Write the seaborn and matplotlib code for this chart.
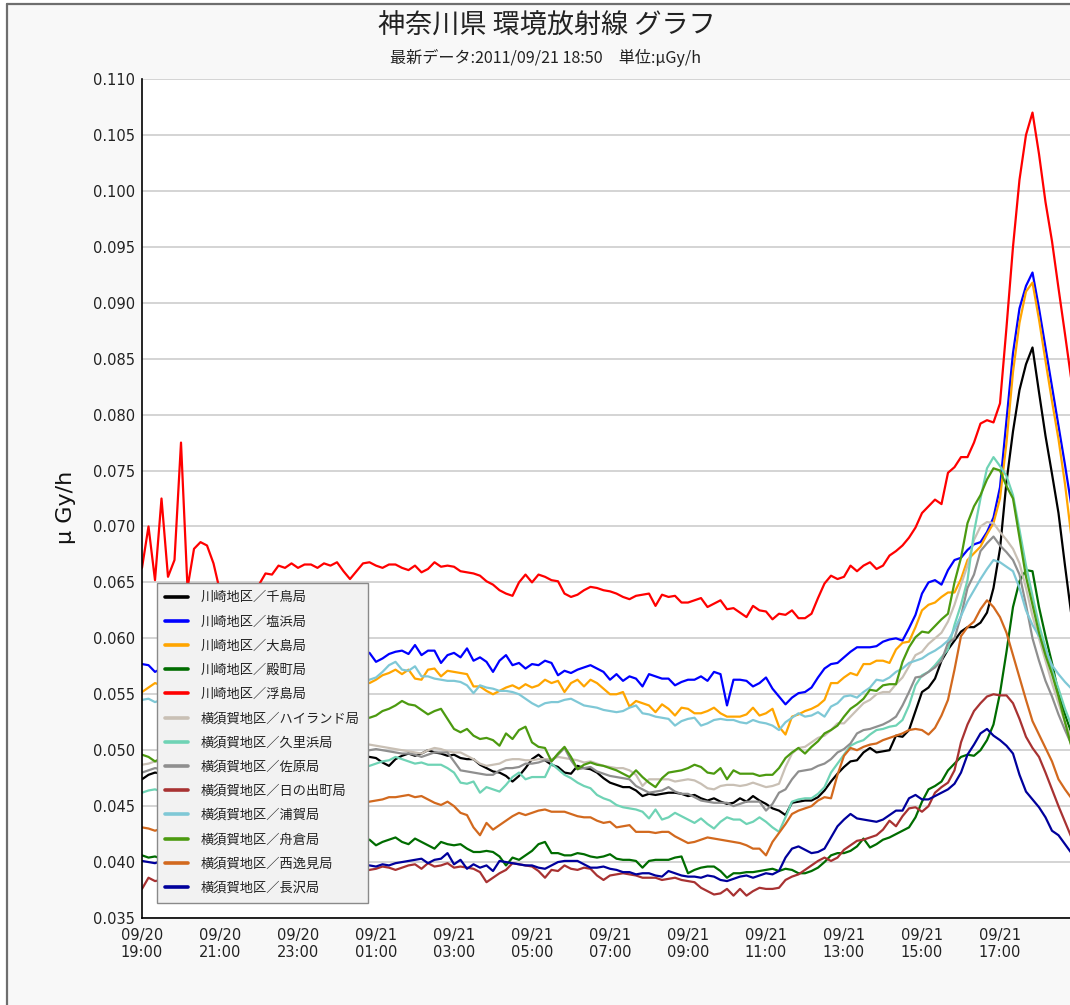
import numpy as np
import pandas as pd
import matplotlib
matplotlib.use("Agg")
import matplotlib.pyplot as plt
import matplotlib.dates as mdates
from matplotlib.ticker import MultipleLocator, FormatStrFormatter
from matplotlib.lines import Line2D
from matplotlib.patches import Rectangle
from matplotlib.font_manager import FontProperties
import seaborn as sns

TITLE = "神奈川県 環境放射線 グラフ"
SUBTITLE = "最新データ:2011/09/21 18:50　単位:μGy/h"
Y_LABEL = "μ Gy/h"
START = "2011-09-20 19:00"
STEP = "10min"

STATIONS = ["川崎地区／千鳥局", "川崎地区／塩浜局", "川崎地区／大島局", "川崎地区／殿町局",
            "川崎地区／浮島局", "横須賀地区／ハイランド局", "横須賀地区／久里浜局",
            "横須賀地区／佐原局", "横須賀地区／日の出町局", "横須賀地区／浦賀局",
            "横須賀地区／舟倉局", "横須賀地区／西逸見局", "横須賀地区／長沢局"]
COLORS = ["#000000", "#0000ff", "#ffa500", "#006c00", "#ff0000", "#c9c0b5", "#6fd3b5",
          "#8f8f8f", "#a83232", "#7fc8d6", "#4c9a10", "#d2691e", "#00009c"]

TICK_LABELS = ["09/20\n19:00", "09/20\n21:00", "09/20\n23:00", "09/21\n01:00",
               "09/21\n03:00", "09/21\n05:00", "09/21\n07:00", "09/21\n09:00",
               "09/21\n11:00", "09/21\n13:00", "09/21\n15:00", "09/21\n17:00"]

chidori = [
    .0474, .0478, .0480, .0479, .0482, .0484, .0483, .0486, .0485, .0488, .0487, .0489,
    .0491, .0490, .0492, .0491, .0493, .0492, .0494, .0493, .0495, .0494, .0496, .0495,
    .0493, .0495, .0497, .0495, .0494, .0496, .0495, .0493, .0495, .0496, .0494, .0494,
    .0493, .0489, .0486, .0492, .0495, .0497, .0495, .0497, .0500, .0498, .0497, .0495,
    .0496, .0493, .0492, .0492, .0487, .0484, .0481, .0480, .0477, .0472, .0477, .0484,
    .0492, .0496, .0491, .0487, .0485, .0480, .0479, .0486, .0484, .0483, .0480, .0475,
    .0471, .0469, .0467, .0467, .0464, .0459, .0461, .0460, .0461, .0462, .0462, .0461,
    .0459, .0460, .0457, .0455, .0457, .0454, .0452, .0453, .0457, .0454, .0459, .0455,
    .0452, .0448, .0446, .0442, .0453, .0454, .0455, .0455, .0458, .0464, .0472, .0479,
    .0485, .0490, .0491, .0498, .0502, .0498, .0499, .0500, .0513, .0512, .0518, .0535,
    .0552, .0556, .0564, .0580, .0590, .0598, .0606, .0610, .0610, .0614, .0623, .0645,
    .0680, .0740, .0785, .0822, .0845, .0860, .0820, .0781, .0747, .0712, .0665, .0620]

shiohama = [
    .0577, .0576, .0570, .0573, .0575, .0578, .0577, .0580, .0582, .0579, .0583, .0585,
    .0581, .0584, .0586, .0583, .0585, .0588, .0584, .0586, .0589, .0587, .0585, .0588,
    .0590, .0587, .0589, .0586, .0588, .0591, .0588, .0586, .0589, .0590, .0588, .0587,
    .0579, .0582, .0586, .0588, .0589, .0586, .0594, .0585, .0589, .0589, .0578, .0585,
    .0587, .0583, .0591, .0580, .0583, .0579, .0570, .0580, .0585, .0576, .0578, .0573,
    .0577, .0576, .0580, .0578, .0567, .0571, .0569, .0572, .0574, .0576, .0573, .0570,
    .0563, .0568, .0562, .0566, .0564, .0557, .0568, .0566, .0564, .0564, .0558, .0561,
    .0563, .0563, .0566, .0562, .0570, .0568, .0540, .0563, .0563, .0562, .0557, .0560,
    .0565, .0555, .0548, .0541, .0547, .0551, .0552, .0556, .0565, .0573, .0577, .0578,
    .0583, .0588, .0592, .0592, .0592, .0593, .0597, .0599, .0600, .0598, .0609, .0621,
    .0640, .0650, .0652, .0648, .0661, .0670, .0672, .0679, .0684, .0686, .0695, .0708,
    .0735, .0795, .0855, .0895, .0915, .0927, .0895, .0860, .0825, .0790, .0755, .0718]

oshima = [
    .0552, .0556, .0560, .0558, .0561, .0559, .0562, .0564, .0561, .0563, .0565, .0562,
    .0564, .0566, .0563, .0565, .0567, .0564, .0566, .0563, .0565, .0567, .0564, .0566,
    .0568, .0565, .0563, .0566, .0564, .0562, .0565, .0563, .0561, .0564, .0562, .0560,
    .0563, .0567, .0569, .0572, .0568, .0572, .0564, .0563, .0572, .0573, .0566, .0571,
    .0570, .0569, .0568, .0557, .0557, .0553, .0550, .0553, .0556, .0558, .0555, .0559,
    .0556, .0558, .0563, .0560, .0562, .0552, .0560, .0563, .0557, .0563, .0560, .0555,
    .0550, .0550, .0552, .0539, .0544, .0542, .0540, .0534, .0541, .0537, .0531, .0538,
    .0537, .0533, .0533, .0535, .0538, .0533, .0530, .0530, .0530, .0532, .0538, .0531,
    .0533, .0537, .0521, .0514, .0530, .0532, .0535, .0537, .0540, .0545, .0560, .0560,
    .0565, .0569, .0567, .0577, .0577, .0580, .0580, .0578, .0590, .0596, .0597, .0610,
    .0625, .0630, .0632, .0637, .0641, .0641, .0653, .0670, .0676, .0682, .0693, .0703,
    .0725, .0775, .0838, .0882, .0910, .0918, .0885, .0848, .0812, .0778, .0738, .0690]

tonomachi = [
    .0406, .0404, .0405, .0403, .0405, .0407, .0406, .0408, .0407, .0409, .0410, .0408,
    .0410, .0412, .0411, .0413, .0412, .0414, .0415, .0413, .0415, .0416, .0414, .0416,
    .0418, .0417, .0419, .0418, .0420, .0419, .0421, .0420, .0419, .0421, .0420, .0420,
    .0415, .0418, .0420, .0422, .0418, .0416, .0421, .0418, .0415, .0412, .0418, .0416,
    .0415, .0416, .0412, .0409, .0409, .0410, .0409, .0405, .0397, .0404, .0402, .0406,
    .0410, .0416, .0418, .0408, .0408, .0406, .0406, .0408, .0407, .0405, .0404, .0405,
    .0407, .0403, .0402, .0402, .0401, .0395, .0401, .0402, .0402, .0402, .0404, .0405,
    .0390, .0393, .0395, .0396, .0396, .0392, .0386, .0390, .0390, .0391, .0391, .0392,
    .0393, .0394, .0392, .0394, .0393, .0390, .0390, .0392, .0395, .0400, .0406, .0408,
    .0408, .0410, .0414, .0421, .0413, .0416, .0420, .0422, .0425, .0428, .0431, .0440,
    .0454, .0465, .0468, .0472, .0482, .0488, .0494, .0496, .0495, .0500, .0509, .0523,
    .0551, .0588, .0628, .0651, .0661, .0660, .0628, .0602, .0578, .0551, .0532, .0515]

ukishima = [
    .0663, .0700, .0652, .0725, .0655, .0670, .0775, .0645, .0680, .0686, .0683, .0667,
    .0642, .0636, .0630, .0628, .0633, .0640, .0648, .0658, .0657, .0665, .0663, .0667,
    .0663, .0666, .0666, .0663, .0667, .0665, .0668, .0660, .0653, .0660, .0667, .0668,
    .0665, .0663, .0666, .0666, .0663, .0661, .0665, .0659, .0662, .0668, .0664, .0665,
    .0664, .0660, .0659, .0658, .0656, .0651, .0648, .0643, .0640, .0638, .0650, .0657,
    .0650, .0657, .0655, .0652, .0651, .0640, .0637, .0639, .0643, .0646, .0645, .0643,
    .0642, .0640, .0637, .0635, .0638, .0639, .0640, .0629, .0639, .0637, .0638, .0632,
    .0632, .0634, .0636, .0628, .0631, .0634, .0626, .0627, .0623, .0619, .0629, .0625,
    .0624, .0617, .0622, .0621, .0625, .0618, .0618, .0622, .0636, .0649, .0656, .0653,
    .0655, .0665, .0660, .0665, .0668, .0662, .0665, .0674, .0678, .0683, .0690, .0699,
    .0712, .0718, .0724, .0720, .0748, .0753, .0762, .0762, .0775, .0792, .0795, .0793,
    .0810, .0878, .0950, .1010, .1050, .1070, .1033, .0990, .0955, .0913, .0872, .0830]

highland = [
    .0487, .0488, .0490, .0489, .0491, .0493, .0492, .0494, .0496, .0495, .0497, .0499,
    .0498, .0500, .0502, .0501, .0503, .0502, .0504, .0505, .0503, .0505, .0506, .0504,
    .0506, .0507, .0505, .0506, .0504, .0506, .0505, .0503, .0505, .0506, .0504, .0505,
    .0504, .0503, .0502, .0501, .0500, .0499, .0498, .0497, .0500, .0502, .0501, .0499,
    .0498, .0498, .0495, .0492, .0488, .0486, .0487, .0488, .0491, .0492, .0492, .0491,
    .0491, .0492, .0492, .0492, .0494, .0493, .0492, .0491, .0489, .0490, .0488, .0486,
    .0485, .0484, .0484, .0482, .0478, .0468, .0474, .0474, .0474, .0474, .0472, .0473,
    .0474, .0473, .0470, .0466, .0465, .0468, .0469, .0469, .0468, .0469, .0471, .0469,
    .0467, .0468, .0470, .0485, .0497, .0502, .0503, .0507, .0511, .0513, .0518, .0524,
    .0524, .0530, .0536, .0542, .0545, .0550, .0552, .0552, .0559, .0565, .0575, .0585,
    .0588, .0595, .0600, .0605, .0615, .0630, .0648, .0665, .0688, .0700, .0704, .0703,
    .0695, .0688, .0680, .0667, .0645, .0620, .0600, .0580, .0560, .0542, .0525, .0510]

kurihama = [
    .0462, .0464, .0465, .0463, .0466, .0468, .0467, .0469, .0471, .0470, .0472, .0474,
    .0473, .0475, .0476, .0475, .0477, .0478, .0477, .0479, .0480, .0479, .0481, .0482,
    .0481, .0483, .0484, .0483, .0485, .0484, .0486, .0485, .0487, .0486, .0485, .0486,
    .0488, .0490, .0491, .0494, .0492, .0490, .0488, .0489, .0487, .0487, .0487, .0484,
    .0480, .0471, .0470, .0472, .0462, .0467, .0465, .0463, .0469, .0476, .0480, .0474,
    .0476, .0476, .0476, .0488, .0483, .0478, .0475, .0471, .0468, .0466, .0460, .0457,
    .0455, .0451, .0449, .0448, .0447, .0445, .0439, .0447, .0438, .0440, .0444, .0441,
    .0438, .0435, .0439, .0434, .0430, .0436, .0440, .0438, .0438, .0434, .0436, .0440,
    .0436, .0431, .0427, .0440, .0454, .0456, .0457, .0457, .0461, .0467, .0480, .0488,
    .0496, .0504, .0507, .0509, .0514, .0518, .0519, .0521, .0522, .0527, .0540, .0558,
    .0567, .0570, .0576, .0583, .0590, .0612, .0630, .0652, .0695, .0725, .0752, .0762,
    .0754, .0745, .0728, .0697, .0665, .0638, .0612, .0592, .0572, .0555, .0537, .0522]

sawara = [
    .0480, .0482, .0484, .0483, .0485, .0487, .0486, .0488, .0490, .0489, .0491, .0493,
    .0492, .0494, .0495, .0494, .0496, .0497, .0495, .0497, .0498, .0496, .0498, .0499,
    .0497, .0499, .0500, .0498, .0500, .0501, .0499, .0501, .0500, .0498, .0500, .0500,
    .0501, .0500, .0499, .0498, .0497, .0497, .0496, .0494, .0496, .0498, .0498, .0498,
    .0490, .0482, .0481, .0480, .0479, .0478, .0478, .0482, .0484, .0484, .0485, .0488,
    .0488, .0489, .0491, .0490, .0496, .0502, .0491, .0483, .0484, .0485, .0481, .0479,
    .0477, .0476, .0475, .0474, .0468, .0465, .0462, .0463, .0464, .0467, .0463, .0461,
    .0461, .0458, .0455, .0454, .0453, .0453, .0453, .0450, .0452, .0454, .0454, .0454,
    .0446, .0452, .0462, .0465, .0474, .0481, .0482, .0483, .0486, .0488, .0492, .0498,
    .0501, .0506, .0515, .0518, .0519, .0521, .0523, .0526, .0530, .0540, .0552, .0565,
    .0566, .0570, .0574, .0580, .0596, .0600, .0620, .0645, .0657, .0678, .0685, .0691,
    .0683, .0677, .0670, .0657, .0630, .0600, .0580, .0562, .0548, .0532, .0518, .0505]

hinodecho = [
    .0376, .0386, .0383, .0384, .0386, .0385, .0387, .0386, .0388, .0387, .0389, .0388,
    .0390, .0389, .0391, .0390, .0389, .0391, .0390, .0392, .0391, .0390, .0392, .0391,
    .0393, .0392, .0391, .0393, .0392, .0394, .0393, .0392, .0394, .0393, .0392, .0393,
    .0394, .0396, .0395, .0393, .0395, .0397, .0398, .0394, .0399, .0396, .0397, .0399,
    .0395, .0396, .0395, .0394, .0391, .0382, .0386, .0390, .0393, .0399, .0398, .0397,
    .0396, .0392, .0386, .0393, .0392, .0397, .0394, .0393, .0395, .0394, .0388, .0384,
    .0388, .0389, .0390, .0389, .0388, .0386, .0386, .0386, .0384, .0385, .0386, .0384,
    .0383, .0382, .0377, .0374, .0371, .0372, .0376, .0370, .0376, .0370, .0374, .0377,
    .0376, .0376, .0377, .0384, .0387, .0389, .0393, .0397, .0401, .0404, .0401, .0404,
    .0411, .0415, .0419, .0420, .0422, .0424, .0429, .0437, .0432, .0441, .0448, .0449,
    .0445, .0450, .0462, .0467, .0471, .0482, .0507, .0523, .0535, .0542, .0548, .0550,
    .0549, .0549, .0542, .0528, .0512, .0502, .0494, .0480, .0465, .0450, .0436, .0422]

uraga = [
    .0545, .0546, .0543, .0545, .0547, .0544, .0546, .0549, .0547, .0550, .0548, .0551,
    .0553, .0550, .0552, .0554, .0551, .0553, .0556, .0554, .0556, .0558, .0555, .0557,
    .0559, .0556, .0558, .0560, .0557, .0559, .0561, .0558, .0560, .0562, .0561, .0563,
    .0565, .0570, .0576, .0579, .0572, .0571, .0575, .0566, .0566, .0564, .0563, .0562,
    .0562, .0561, .0558, .0551, .0558, .0556, .0555, .0553, .0553, .0552, .0550, .0546,
    .0542, .0539, .0542, .0543, .0543, .0545, .0546, .0543, .0540, .0539, .0538, .0536,
    .0535, .0534, .0535, .0538, .0540, .0533, .0532, .0530, .0529, .0528, .0522, .0526,
    .0528, .0529, .0522, .0524, .0527, .0528, .0527, .0527, .0525, .0524, .0527, .0525,
    .0524, .0522, .0518, .0525, .0529, .0533, .0530, .0531, .0534, .0530, .0539, .0542,
    .0548, .0549, .0547, .0552, .0556, .0563, .0562, .0565, .0570, .0573, .0578, .0580,
    .0582, .0586, .0589, .0593, .0598, .0608, .0620, .0633, .0643, .0653, .0662, .0670,
    .0668, .0664, .0660, .0645, .0625, .0612, .0602, .0590, .0576, .0568, .0561, .0555]

funakura = [
    .0496, .0494, .0490, .0493, .0496, .0495, .0499, .0502, .0500, .0503, .0506, .0504,
    .0507, .0510, .0508, .0511, .0513, .0511, .0514, .0516, .0514, .0517, .0519, .0517,
    .0520, .0522, .0520, .0523, .0525, .0523, .0526, .0527, .0525, .0528, .0530, .0529,
    .0531, .0535, .0537, .0540, .0544, .0541, .0540, .0536, .0532, .0535, .0537, .0528,
    .0519, .0516, .0519, .0513, .0510, .0511, .0509, .0504, .0515, .0510, .0518, .0521,
    .0507, .0503, .0502, .0490, .0497, .0503, .0494, .0483, .0487, .0489, .0487, .0486,
    .0484, .0482, .0479, .0476, .0482, .0476, .0471, .0467, .0475, .0480, .0481, .0482,
    .0484, .0487, .0485, .0480, .0479, .0484, .0474, .0482, .0479, .0479, .0479, .0477,
    .0478, .0478, .0484, .0493, .0498, .0502, .0497, .0503, .0508, .0515, .0518, .0522,
    .0530, .0537, .0541, .0546, .0554, .0553, .0558, .0559, .0559, .0579, .0592, .0601,
    .0606, .0605, .0611, .0617, .0622, .0650, .0672, .0703, .0718, .0728, .0742, .0752,
    .0750, .0736, .0725, .0690, .0655, .0630, .0605, .0585, .0568, .0548, .0525, .0503]

nishihemi = [
    .0431, .0430, .0428, .0430, .0432, .0431, .0434, .0436, .0435, .0437, .0439, .0438,
    .0440, .0442, .0441, .0443, .0444, .0443, .0445, .0447, .0446, .0448, .0449, .0448,
    .0450, .0451, .0450, .0452, .0453, .0452, .0454, .0453, .0455, .0454, .0453, .0454,
    .0455, .0456, .0458, .0458, .0459, .0460, .0458, .0459, .0456, .0453, .0451, .0454,
    .0450, .0444, .0442, .0431, .0424, .0435, .0429, .0433, .0437, .0441, .0444, .0442,
    .0444, .0446, .0447, .0445, .0445, .0445, .0443, .0441, .0440, .0440, .0437, .0435,
    .0436, .0431, .0432, .0433, .0427, .0427, .0427, .0426, .0427, .0427, .0423, .0420,
    .0417, .0418, .0420, .0422, .0421, .0420, .0419, .0418, .0417, .0415, .0412, .0412,
    .0406, .0418, .0426, .0434, .0443, .0446, .0448, .0450, .0455, .0458, .0457, .0478,
    .0495, .0502, .0500, .0503, .0505, .0506, .0509, .0511, .0513, .0515, .0518, .0519,
    .0518, .0514, .0520, .0531, .0545, .0572, .0602, .0610, .0615, .0626, .0634, .0628,
    .0619, .0605, .0585, .0565, .0545, .0526, .0514, .0502, .0490, .0474, .0465, .0457]

nagasawa = [
    .0401, .0400, .0399, .0401, .0400, .0398, .0400, .0399, .0401, .0400, .0398, .0399,
    .0401, .0400, .0398, .0397, .0399, .0398, .0400, .0399, .0397, .0398, .0400, .0399,
    .0397, .0396, .0398, .0397, .0399, .0398, .0396, .0397, .0398, .0396, .0397, .0397,
    .0396, .0398, .0397, .0399, .0400, .0401, .0402, .0403, .0399, .0402, .0403, .0408,
    .0398, .0402, .0394, .0398, .0395, .0397, .0392, .0401, .0400, .0399, .0398, .0397,
    .0397, .0395, .0394, .0397, .0400, .0401, .0401, .0401, .0398, .0395, .0395, .0396,
    .0394, .0393, .0391, .0391, .0389, .0390, .0390, .0388, .0387, .0392, .0390, .0388,
    .0387, .0387, .0386, .0388, .0387, .0384, .0383, .0385, .0387, .0388, .0386, .0388,
    .0390, .0389, .0392, .0404, .0412, .0414, .0411, .0408, .0409, .0412, .0422, .0432,
    .0438, .0443, .0439, .0438, .0437, .0436, .0438, .0442, .0446, .0446, .0457, .0460,
    .0456, .0456, .0459, .0462, .0465, .0470, .0480, .0496, .0505, .0515, .0519, .0513,
    .0509, .0504, .0497, .0478, .0463, .0456, .0449, .0440, .0428, .0424, .0416, .0408]

SERIES = [chidori, shiohama, oshima, tonomachi, ukishima, highland, kurihama,
          sawara, hinodecho, uraga, funakura, nishihemi, nagasawa]

# ---------------------------------------------------------------- data frame
times = pd.date_range(START, periods=len(chidori), freq=STEP)
frames = []
for name, vals in zip(STATIONS, SERIES):
    frames.append(pd.DataFrame({"time": times, "value": vals, "station": name}))
df = pd.concat(frames, ignore_index=True)

# ---------------------------------------------------------------- figure
sns.set_style("white")
plt.rcParams["font.family"] = ["DejaVu Sans", "Noto Sans CJK JP"]
JP = ["Noto Sans CJK JP", "DejaVu Sans"]

W, H = 1070, 1005
fig = plt.figure(figsize=(W / 100, H / 100), dpi=100, facecolor="#f8f8f8")
ax = fig.add_axes([142 / W, (H - 918) / H, (W - 142) / W, (918 - 79) / H])
ax.set_facecolor("white")

palette = dict(zip(STATIONS, COLORS))
sns.lineplot(data=df, x="time", y="value", hue="station", hue_order=STATIONS,
             palette=palette, linewidth=1.6, estimator=None, sort=False,
             legend=False, ax=ax)

ax.set_xlim(times[0], pd.Timestamp("2011-09-21 18:47:42"))
ax.set_ylim(0.035, 0.110)

ax.set_xticks(times[::12])
ax.set_xticklabels(TICK_LABELS)
ax.xaxis.set_minor_locator(mdates.MinuteLocator(byminute=range(0, 60, 10)))
ax.yaxis.set_major_locator(MultipleLocator(0.005))
ax.yaxis.set_minor_locator(MultipleLocator(0.001))
ax.yaxis.set_major_formatter(FormatStrFormatter("%.3f"))

ax.tick_params(axis="both", which="both", direction="in", color="black", width=1)
ax.tick_params(axis="both", which="major", length=5, labelsize=10.5, labelcolor="#222222")
ax.tick_params(axis="both", which="minor", length=5)
ax.tick_params(axis="x", which="major", pad=7)
ax.tick_params(axis="y", which="major", pad=5)

ax.yaxis.grid(True, which="major", color="#d4d4d4", linewidth=1.4)
ax.xaxis.grid(False)
ax.set_axisbelow(True)

for s in ["top", "right"]:
    ax.spines[s].set_visible(False)
for s in ["left", "bottom"]:
    ax.spines[s].set_color("black")
    ax.spines[s].set_linewidth(1.2)

ax.set_xlabel("")
ax.set_ylabel(Y_LABEL, fontsize=16, color="#111111")
ax.yaxis.set_label_coords(-66 / (W - 142), 0.49)

# legend
handles = [Line2D([], [], color=c, lw=2.6) for c in COLORS]
leg = ax.legend(handles, STATIONS, loc="upper left",
                bbox_to_anchor=(15 / (W - 142), (918 - 583) / (918 - 79)),
                borderaxespad=0, frameon=True, fancybox=False, framealpha=1,
                facecolor="#f2f2f2", edgecolor="#8a8a8a",
                prop=FontProperties(family=JP, size=9.5),
                handlelength=1.7, handletextpad=1.0, labelspacing=0.85,
                borderpad=0.62)
leg.get_frame().set_linewidth(1.0)
for t in leg.get_texts():
    t.set_color("#222222")

# titles
fig.text(547 / W, 1 - 26 / H, TITLE, ha="center", va="center", fontsize=19.5,
         family=JP, color="#222222")
fig.text(546 / W, 1 - 58 / H, SUBTITLE, ha="center", va="center", fontsize=11.6,
         family=JP, color="#222222")

# window frame
fig.add_artist(Rectangle((0, 0), 6 / W, 1, transform=fig.transFigure,
                         facecolor="white", edgecolor="none", zorder=-1))
fig.add_artist(Rectangle((0, 1 - 4 / H), 1, 4 / H, transform=fig.transFigure,
                         facecolor="white", edgecolor="none", zorder=-1))
fig.add_artist(Line2D([6.5 / W, 6.5 / W], [0, 1 - 4.5 / H], transform=fig.transFigure,
                      color="#6e6e6e", lw=1.6))
fig.add_artist(Line2D([6.5 / W, 1], [1 - 4.5 / H, 1 - 4.5 / H], transform=fig.transFigure,
                      color="#6e6e6e", lw=1.6))

fig.savefig("out.png", dpi=100, facecolor=fig.get_facecolor())
